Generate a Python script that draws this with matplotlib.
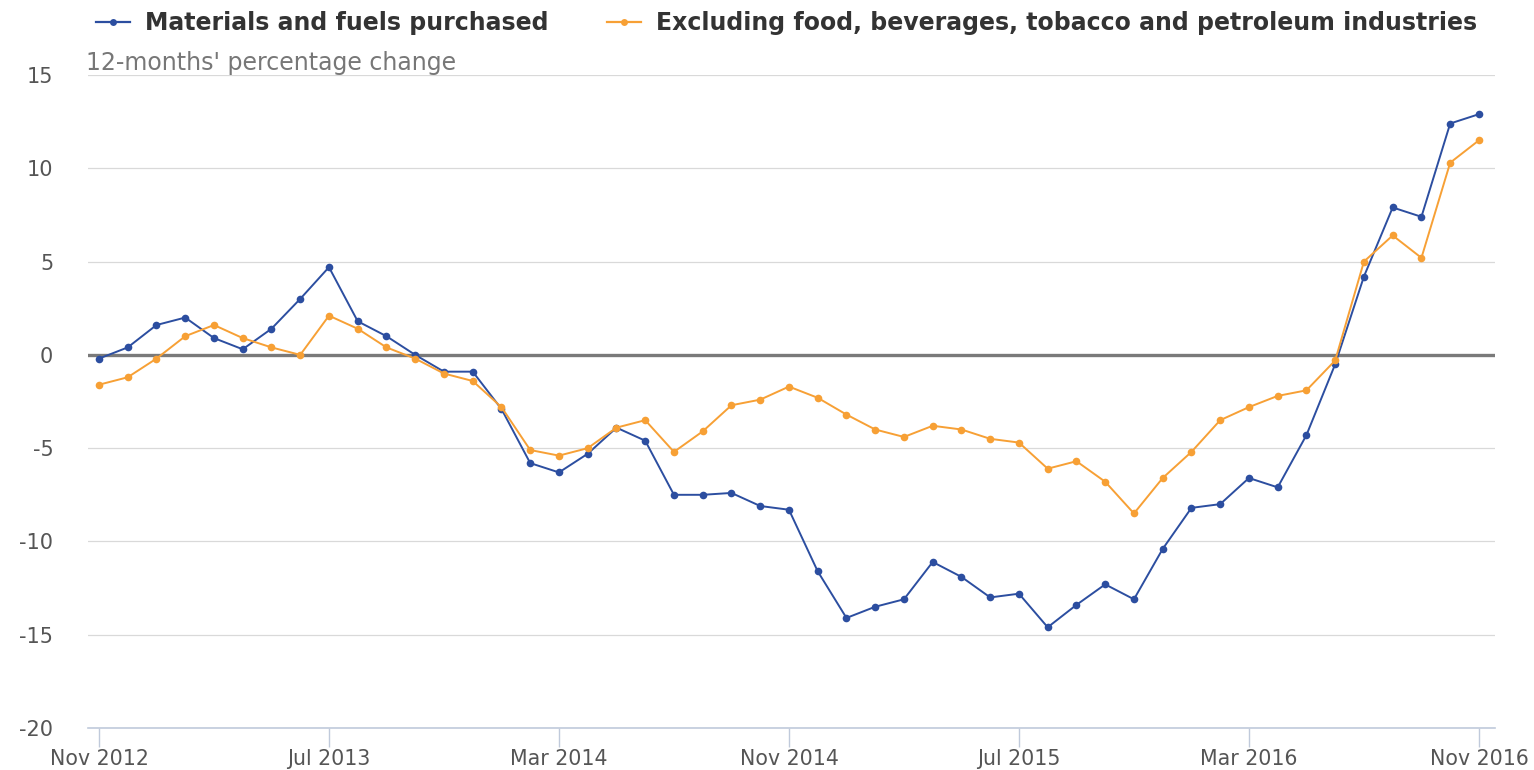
import matplotlib
matplotlib.use("Agg")
import matplotlib.pyplot as plt
from matplotlib.lines import Line2D
import pandas as pd

# Monthly observations, Nov 2012 - Nov 2016
months = pd.date_range("2012-11-01", "2016-11-01", freq="MS")

materials_fuels = [
    -0.2, 0.4, 1.6, 2.0, 0.9, 0.3, 1.4, 3.0, 4.7, 1.8, 1.0, 0.0,
    -0.9, -0.9, -2.9, -5.8, -6.3, -5.3, -3.9, -4.6, -7.5, -7.5, -7.4, -8.1,
    -8.3, -11.6, -14.1, -13.5, -13.1, -11.1, -11.9, -13.0, -12.8, -14.6, -13.4, -12.3,
    -13.1, -10.4, -8.2, -8.0, -6.6, -7.1, -4.3, -0.5, 4.2, 7.9, 7.4, 12.4,
    12.9,
]
excluding_food_petroleum = [
    -1.6, -1.2, -0.2, 1.0, 1.6, 0.9, 0.4, 0.0, 2.1, 1.4, 0.4, -0.2,
    -1.0, -1.4, -2.8, -5.1, -5.4, -5.0, -3.9, -3.5, -5.2, -4.1, -2.7, -2.4,
    -1.7, -2.3, -3.2, -4.0, -4.4, -3.8, -4.0, -4.5, -4.7, -6.1, -5.7, -6.8,
    -8.5, -6.6, -5.2, -3.5, -2.8, -2.2, -1.9, -0.3, 5.0, 6.4, 5.2, 10.3,
    11.5,
]

series_names = [
    "Materials and fuels purchased",
    "Excluding food, beverages, tobacco and petroleum industries",
]
series_colors = ["#2c4ea0", "#f7a035"]

y_ticks = [-20, -15, -10, -5, 0, 5, 10, 15]
x_tick_labels = ["Nov 2012", "Jul 2013", "Mar 2014", "Nov 2014",
                 "Jul 2015", "Mar 2016", "Nov 2016"]
y_title = "12-months' percentage change"

month_labels = [d.strftime("%b %Y") for d in months]
x = list(range(len(months)))
x_tick_pos = [month_labels.index(lbl) for lbl in x_tick_labels]

fig = plt.figure(figsize=(15.34, 7.70), dpi=100)
ax = fig.add_axes([0.0574, 0.0545, 0.9172, 0.8481])

text_gray = "#555555"
grid_gray = "#d9d9d9"
axis_blue = "#c0cadb"

# horizontal grid lines
for v in y_ticks:
    if v == 0:
        continue
    ax.axhline(v, color=grid_gray, lw=0.9, zorder=1)
ax.axhline(0, color="#7a7a7a", lw=2.4, zorder=2)

for vals, col in zip([materials_fuels, excluding_food_petroleum], series_colors):
    ax.plot(x, vals, color=col, lw=1.4, marker="o", markersize=5.5,
            markeredgewidth=0, zorder=3)

ax.set_xlim(-0.38, 48.56)
ax.set_ylim(-20, 15)

ax.set_yticks(y_ticks)
ax.set_yticklabels([str(v) for v in y_ticks])
ax.set_xticks(x_tick_pos)
ax.set_xticklabels(x_tick_labels)

for s in ["top", "right", "left"]:
    ax.spines[s].set_visible(False)
ax.spines["bottom"].set_color(axis_blue)
ax.spines["bottom"].set_linewidth(1.2)

ax.tick_params(axis="y", length=0, pad=25, labelsize=15, labelcolor=text_gray)
ax.tick_params(axis="x", length=14, width=1, color=axis_blue, pad=1,
               labelsize=14.8, labelcolor=text_gray)

fig.text(0.0561, 1 - 63 / 770, y_title, fontsize=17, color="#777777",
         ha="left", va="center")

handles = [Line2D([0], [0], color=c, lw=1.6, marker="o", markersize=5,
                  markeredgewidth=0) for c in series_colors]
fig.legend(handles, series_names, loc="center", ncol=2,
           bbox_to_anchor=(0.5127, 1 - 23 / 770), frameon=False,
           prop={"weight": "bold", "size": 17}, labelcolor="#333333",
           handlelength=1.45, handletextpad=0.64, columnspacing=2.45,
           borderpad=0, borderaxespad=0)

fig.savefig("out.png", dpi=100, facecolor="white")
